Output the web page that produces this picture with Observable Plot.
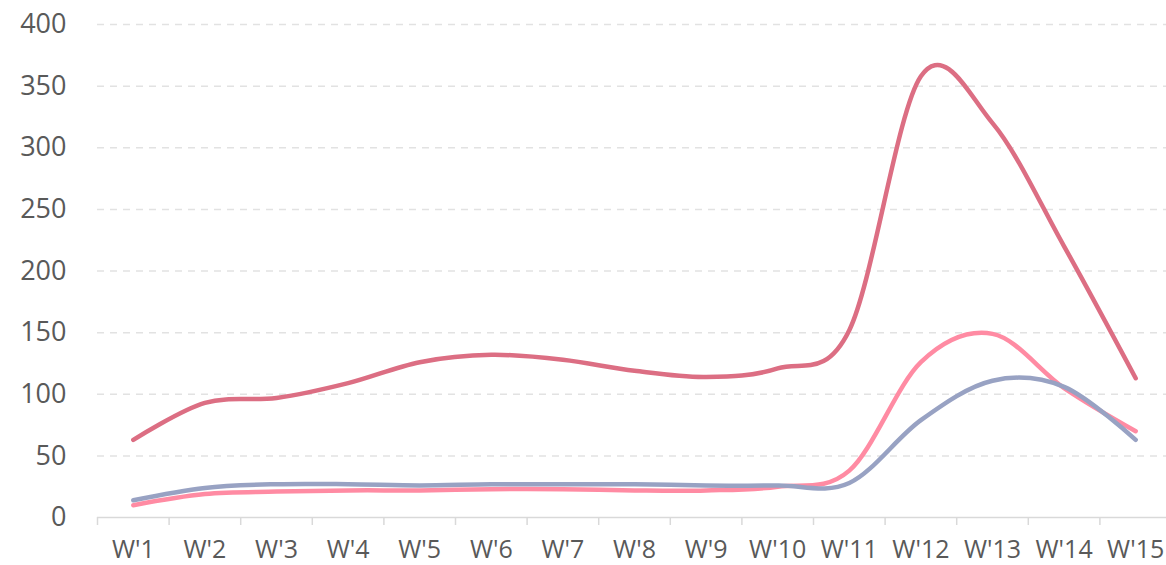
<!DOCTYPE html>
<html><head><meta charset="utf-8">
<script src="https://cdn.jsdelivr.net/npm/d3@7"></script>
<script src="https://cdn.jsdelivr.net/npm/@observablehq/plot@0.6"></script>
<style>body{margin:0;background:#fff;overflow:hidden}</style>
</head><body><div id="chart"></div>
<script>
const weeks = ["W'1","W'2","W'3","W'4","W'5","W'6","W'7","W'8","W'9","W'10","W'11","W'12","W'13","W'14","W'15"];
const seriesNames = ["Series 1","Series 2","Series 3"];
const seriesColors = ["#dc6e83","#ff8ba3","#98a2c3"];
const series1 = [63, 93, 97, 109, 126, 132, 128, 119, 114, 121, 152, 358, 320, 220, 113];
const series2 = [10, 19, 21, 22, 22, 23, 23, 22, 22, 25, 38, 126, 149, 105, 70];
const series3 = [14, 24, 27, 27, 26, 27, 27, 27, 26, 26, 28, 79, 111, 106, 63];
const yTicks = [0, 50, 100, 150, 200, 250, 300, 350, 400];

const rows = [];
[series1, series2, series3].forEach((vals, i) => {
  vals.forEach((v, j) => rows.push({series: seriesNames[i], week: weeks[j], value: v}));
});

const x0 = 97, x1 = 1171;
const bw = (x1 - x0) / weeks.length;

const chart = Plot.plot({
  width: 1166, height: 565,
  marginLeft: 97, marginRight: 0, marginTop: 24, marginBottom: 48,
  style: {fontFamily: "'Open Sans', sans-serif", color: "#595959", background: "#fff", overflow: "hidden"},
  x: {type: "band", domain: weeks, range: [x0, x1], padding: 0, round: false, axis: null},
  y: {domain: [0, 400], axis: null},
  color: {domain: seriesNames, range: seriesColors},
  marks: [
    Plot.gridY(yTicks.filter(t => t > 0), {stroke: "#e2e2e2", strokeOpacity: 1, strokeWidth: 1.5, strokeDasharray: "7,6"}),
    Plot.ruleY([0], {stroke: "#d9d9d9", strokeWidth: 1.5}),
    Plot.axisX(weeks, {tickSize: 8, dx: -bw / 2, stroke: "#d9d9d9", strokeWidth: 1.5, fill: "none", tickFormat: () => "", label: null}),
    Plot.axisX([weeks[weeks.length - 1]], {tickSize: 8, dx: bw / 2, stroke: "#d9d9d9", strokeWidth: 1.5, fill: "none", tickFormat: () => "", label: null}),
    Plot.axisX(weeks, {tickSize: 0, tickPadding: 23, fontSize: 25, fill: "#595959", label: null}),
    Plot.axisY(yTicks, {tickSize: 0, tickPadding: 31, fontSize: 27, fill: "#595959", label: null}),
    Plot.line(rows, {x: "week", y: "value", z: "series", stroke: "series", curve: "cardinal", strokeWidth: 4.5, strokeLinecap: "round", strokeLinejoin: "round"})
  ]
});
document.getElementById("chart").appendChild(chart);
</script>
</body></html>
